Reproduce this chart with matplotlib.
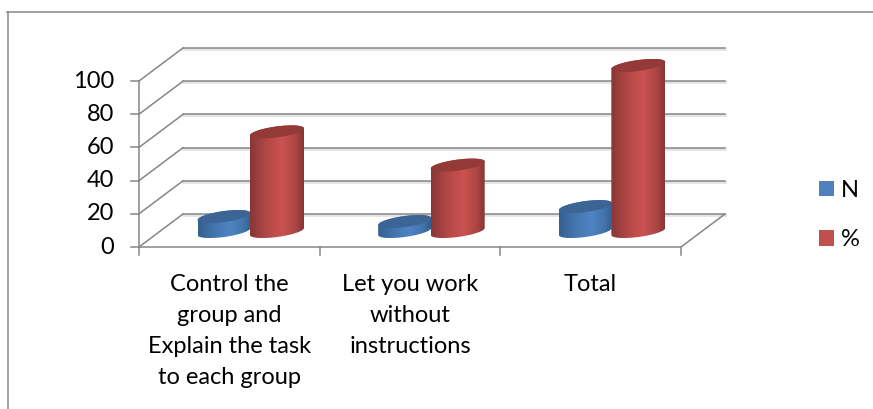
import numpy as np
import matplotlib
matplotlib.use('Agg')
import matplotlib.pyplot as plt
from matplotlib.colors import LinearSegmentedColormap
from matplotlib.lines import Line2D
from matplotlib.patches import Patch, Polygon

plt.rcParams['font.family'] = ['Lato', 'DejaVu Sans']

# Data
categories = ['Control the\ngroup and\nExplain the task\nto each group',
              'Let you work\nwithout\ninstructions',
              'Total']
n_values = [9, 6, 15]
pct_values = [60, 40, 100]
y_ticks = [0, 20, 40, 60, 80, 100]

GRAY = '#868686'
W, H = 873, 409
X0, X3, Y0, Y100 = 139, 681, 247, 81  # pixel positions of the front plot corners
PX_X = (X3 - X0) / 3    # pixels per category
PX_Y = (Y0 - Y100) / 100  # pixels per value unit
DX = 44 / PX_X  # depth of the 3D box
DY = 33 / PX_Y

fig = plt.figure(figsize=(W / 100, H / 100), dpi=100)
ax = fig.add_axes([0, 0, 1, 1])
xlim = (-X0 / PX_X, (W - X0) / PX_X)
ylim = ((Y0 - H) / PX_Y, Y0 / PX_Y)
ax.axis('off')

# Outer chart border, only top and left show
fig.add_artist(Line2D([7.5 / W, 7.5 / W], [0, 1 - 12 / H], color=GRAY, lw=1.1))
fig.add_artist(Line2D([7 / W, 1], [1 - 12 / H, 1 - 12 / H], color=GRAY, lw=1.1))

# Walls: gridlines and diagonals
for v in y_ticks:
    ax.plot([0 + DX, 3 + DX], [v + DY - 0.6, v + DY - 0.6], color='#e4e4e4', lw=2.0, zorder=1)
    ax.plot([0 + DX, 3 + DX], [v + DY, v + DY], color=GRAY, lw=1.1, zorder=2)
    ax.plot([0, DX], [v, v + DY], color=GRAY, lw=1.1, zorder=2)
    ax.plot([-8 / PX_X, 0], [v, v], color=GRAY, lw=1.1, zorder=2)
    ax.text(-25 / PX_X, v, str(v), ha='right', va='center', fontsize=17, color='black')

# Floor and front axes
ax.plot([0, 0], [0, 100], color=GRAY, lw=1.1, zorder=2)
ax.plot([0, 3, 3 + DX], [0, 0, DY], color=GRAY, lw=1.1, zorder=2)
for i in range(4):
    ax.plot([i, i], [0, -8 / PX_Y], color=GRAY, lw=1.1, zorder=2)

for i, label in enumerate(categories):
    ax.text(i + 0.5, -27 / PX_Y, label, ha='center', va='top', fontsize=17,
            linespacing=1.58, color='black')

red_cmap = LinearSegmentedColormap.from_list('r', [(0, '#873735'), (0.3, '#b24745'), (0.6, '#cb5351'),
                                                   (0.85, '#ab4543'), (1, '#853634')])
blue_cmap = LinearSegmentedColormap.from_list('b', [(0, '#33608f'), (0.3, '#4375ad'), (0.6, '#4f84c4'),
                                                    (0.85, '#4273ab'), (1, '#325e8d')])


def cylinder(xc, value, half_w, cmap, top_color, z):
    base = 0.47 * DY
    top = base + value
    t = np.linspace(0, 2 * np.pi, 81)
    # ellipse leans up to the right
    ex = half_w * np.cos(t)
    ey = 5.5 / PX_Y * np.sin(t) + 3.5 / PX_Y * np.cos(t)
    # Body outline: lower half of the base, then back over the top ellipse
    bx = xc + ex[40:]
    by = base + ey[40:]
    tx = xc + ex[:41]
    ty = top + ey[:41]
    verts = np.column_stack([np.r_[bx, tx], np.r_[by, ty]])
    body = Polygon(verts, closed=True, facecolor='none', edgecolor='none', zorder=z)
    ax.add_patch(body)
    grad = np.linspace(0, 1, 128).reshape(1, -1)
    im = ax.imshow(grad, cmap=cmap, extent=[xc - half_w, xc + half_w, base - 10, top + 10],
                   aspect='auto', zorder=z, vmin=0, vmax=1)
    im.set_clip_path(body)
    cap = Polygon(np.column_stack([xc + ex, top + ey]), closed=True, facecolor=top_color,
                  edgecolor='none', zorder=z + 0.1)
    ax.add_patch(cap)


half = 26.5 / PX_X
for i in range(3):
    mid = i + 0.5 + DX * 0.47 + 0.5 / PX_X
    cylinder(mid - half, n_values[i], half, blue_cmap, '#3c6595', 3)
    cylinder(mid + half, pct_values[i], half + 0.5 / PX_X, red_cmap, '#933a38', 4)

ax.set_xlim(xlim)
ax.set_ylim(ylim)

handles = [Patch(facecolor='#4f81bd', edgecolor='none'), Patch(facecolor='#c0504d', edgecolor='none')]
leg = ax.legend(handles, ['N', '%'], loc='center left', frameon=False, fontsize=17,
                bbox_to_anchor=(819 / W, 1 - 215 / H), borderaxespad=0, borderpad=0,
                handlelength=0.64, handleheight=0.64, handletextpad=0.3, labelspacing=1.2)

fig.savefig('out.png', dpi=100)
